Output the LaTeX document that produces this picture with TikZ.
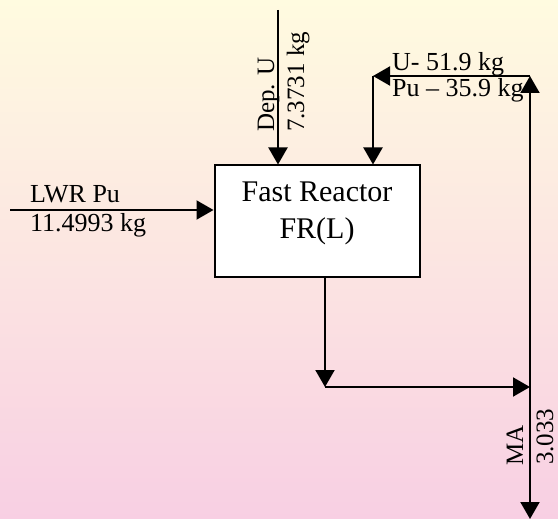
\documentclass[tikz,border=0pt]{standalone}
\usepackage{fontspec}
\setmainfont{Liberation Serif}
\usetikzlibrary{arrows.meta}

\definecolor{bgtop}{RGB}{255,251,224}
\definecolor{bgmid}{RGB}{255,244,246}
\definecolor{bgbot}{RGB}{248,207,227}

\tikzset{
    flow/.style={line width=2pt, -{Triangle[length=17pt,width=19pt]}},
    lbl/.style={inner sep=0pt, anchor=base west, font=\fontsize{26}{30}\selectfont},
    vlbl/.style={lbl, rotate=90, font=\fontsize{25}{30}\selectfont},
    boxlbl/.style={inner sep=0pt, anchor=base, font=\fontsize{30}{36}\selectfont}
}

\begin{document}
\begin{tikzpicture}[x=1pt, y=-1pt]

% background
\useasboundingbox (0,0) rectangle (558,519);
\shade[top color=bgtop, middle color=bgmid, bottom color=bgbot] (0,0) rectangle (558,519);

% reactor
\node[draw, line width=2pt, fill=white, minimum width=205pt, minimum height=111pt] (fr) at (317,221) {};
\node[boxlbl] (fra) at (317,202) {Fast Reactor};
\node[boxlbl] (frb) at (317,238) {FR(L)};

% feed points
\coordinate (lwr) at (10,210);
\coordinate (depu) at (278,10);
\coordinate (rt) at (373,76);
\coordinate (rr) at (530,76);
\coordinate (ml) at (325,387);
\coordinate (mj) at (530,387);
\coordinate (rb) at (530,519);

% LWR Pu
\node[lbl] (lwrtop) at (30,203) {LWR Pu};
\node[lbl] (lwrbot) at (30,232) {11.4993 kg};
\draw[flow] (lwr) -- (lwr -| fr.west);

% Dep. U
\node[vlbl] (depa) at (274,132) {Dep. U};
\node[vlbl] (depb) at (304,132) {7.3731 kg};
\draw[flow] (depu) -- (depu |- fr.north);

% recycle
\node[lbl] (rca) at (392,71) {U- 51.9 kg};
\node[lbl] (rcb) at (392,97) {Pu -- 35.9 kg};
\draw[flow] (mj) -- (rr);
\draw[flow] (rr) -- (rt);
\draw[flow] (rt) -- (rt |- fr.north);

% discharge
\draw[flow] (ml |- fr.south) -- (ml);
\draw[flow] (ml) -- (mj);
\draw[flow] (mj) -- (rb);
\node[vlbl] (maa) at (523,466) {MA};
\node[vlbl] (mab) at (553,465) {3.033};

\end{tikzpicture}
\end{document}
